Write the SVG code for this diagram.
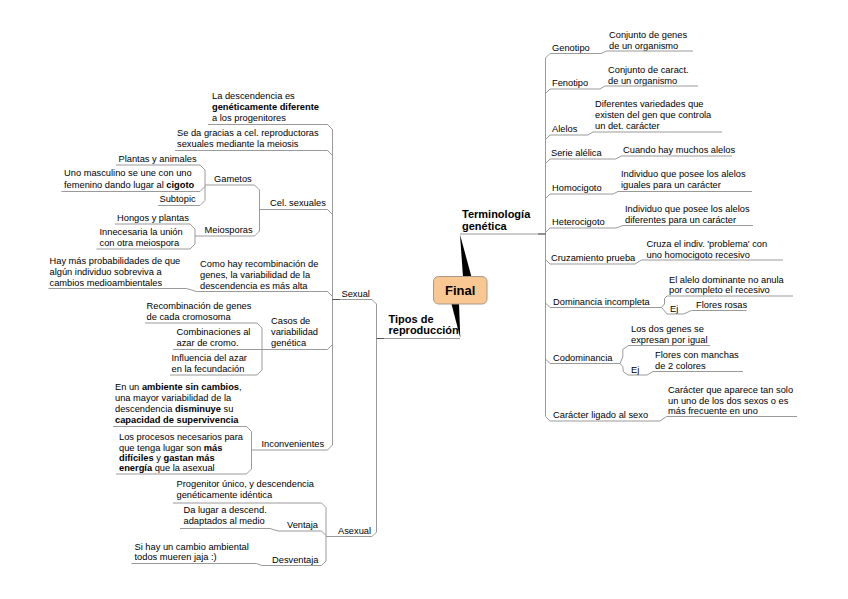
<svg xmlns="http://www.w3.org/2000/svg" width="848" height="599" viewBox="0 0 848 599">
<style>
text{font-family:"Liberation Sans",Arial,sans-serif;font-size:9.3px;fill:#000}
.h{font-size:11px;font-weight:bold}
.b{font-weight:bold}
path{fill:none;stroke:#9a9a9a;stroke-width:1}
.dk{stroke:#555}
</style>
<rect width="848" height="599" fill="#fff"/>
<g id="connectors">
<polygon points="460,234.5 471.5,277 463,277" fill="#000" stroke="none"/>
<polygon points="451.5,304 459,304 460.3,338" fill="#000" stroke="none"/>
<path d="M545.5,58V416.5"/>
<path d="M545.5,58L550,53.5M601,53.5L606.5,51"/>
<path d="M545.5,93.5L550,89M600,89L605,86"/>
<path d="M545.5,139.5L550,135M588,135L593,132"/>
<path d="M545.5,163.5L550,159M615.5,159L621.5,156"/>
<path d="M545.5,198.5L550,194M613,194L618,191.5"/>
<path d="M545.5,232.5L550,228M616,228L623,225.5"/>
<path d="M545.5,259.5L550,264M635,264L641.5,260"/>
<path d="M545.5,303L550,307.5"/>
<path d="M667,296L664.5,298.5V304L661.5,307.5L664.5,311L667,314"/>
<path d="M683.5,314L691.5,310.5"/>
<path d="M545.5,359L550,363.5"/>
<path d="M628,346L622.8,349.3V356.7L620,363.5L622.8,366.7L623.3,371.7L628,375"/>
<path d="M647,375L653,371.5"/>
<path d="M545.5,416.5L550,421M660,421L666.5,416.5"/>
<path d="M376.5,304V532"/>
<path d="M372,299.5L376.5,304M372,536.5L376.5,532"/>
<path d="M332.5,129.5V445"/>
<path d="M327.5,124.5L332.5,129.5M327.5,150.5L332.5,155.5M327.5,209.5L332.5,214.5M327.5,291.5L332.5,296.5M327.5,349.5L332.5,344.5M327.5,450L332.5,445"/>
<path d="M259.5,190V231M254.5,185L259.5,190M254.5,236L259.5,231"/>
<path d="M205,170V200.5M200,165L205,170M200,191.5L205,186.5M200,205.5L205,200.5"/>
<path d="M195,229V244M190,224L195,229M190,249L195,244"/>
<path d="M186.5,288.5L196.5,291.5"/>
<path d="M262,328V370M257,323L262,328M257,375L262,370"/>
<path d="M251.5,431.5V469M246.5,426.5L251.5,431.5M246.5,474L251.5,469"/>
<path d="M326,507.5V561M321.5,503L326,507.5M321.5,531L326,535.5M321.5,565.5L326,561"/>
<path d="M270,528.5L278,531M256.5,563.5L262,565.5"/>
</g>
<g id="n-final"><rect x="433.5" y="276.5" width="53.5" height="27.5" rx="5" fill="#F9C792" stroke="#A8998A"/><text class="h" x="460.2" y="295" text-anchor="middle" style="font-size:13px">Final</text></g>
<g id="n-terminologia"><text class="h" x="462" y="217.5">Terminología</text><text class="h" x="462" y="230">genética</text><path d="M460,234H545.5"/><path class="dk" d="M538,234H545.5"/></g>
<g id="n-tipos"><text class="h" x="388.5" y="322.5">Tipos de</text><text class="h" x="388.5" y="334">reproducción</text><path d="M376.5,338.5H460"/><path class="dk" d="M376.5,338.5H384"/></g>
<g id="n-genotipo"><text x="552" y="50.5">Genotipo</text><path d="M550,53.5H601"/></g>
<g id="n-genotipo-d"><text x="609" y="37.5">Conjunto de genes</text><text x="609" y="48.5">de un organismo</text><path d="M606.5,51H693"/></g>
<g id="n-fenotipo"><text x="552" y="86">Fenotipo</text><path d="M550,89H600"/></g>
<g id="n-fenotipo-d"><text x="608" y="72.5">Conjunto de caract.</text><text x="608" y="83.5">de un organismo</text><path d="M605,86H698"/></g>
<g id="n-alelos"><text x="552" y="132">Alelos</text><path d="M550,135H588"/></g>
<g id="n-alelos-d"><text x="595" y="107">Diferentes variedades que</text><text x="595" y="118">existen del gen que controla</text><text x="595" y="129">un det. carácter</text><path d="M593,132H722"/></g>
<g id="n-serie"><text x="551" y="156">Serie alélica</text><path d="M550,159H615.5"/></g>
<g id="n-serie-d"><text x="623" y="153">Cuando hay muchos alelos</text><path d="M621.5,156H732"/></g>
<g id="n-homo"><text x="552" y="191">Homocigoto</text><path d="M550,194H613"/></g>
<g id="n-homo-d"><text x="621" y="177">Individuo que posee los alelos</text><text x="621" y="188">iguales para un carácter</text><path d="M618,191.5H752"/></g>
<g id="n-hetero"><text x="552" y="225">Heterocigoto</text><path d="M550,228H616"/></g>
<g id="n-hetero-d"><text x="625" y="211.5">Individuo que posee los alelos</text><text x="625" y="222.5">diferentes para un carácter</text><path d="M623,225.5H753"/></g>
<g id="n-cruz"><text x="551" y="261">Cruzamiento prueba</text><path d="M550,264H635"/></g>
<g id="n-cruz-d"><text x="646.5" y="246.5">Cruza el indiv. 'problema' con</text><text x="646.5" y="257.5">uno homocigoto recesivo</text><path d="M641.5,260H783"/></g>
<g id="n-dom"><text x="553" y="304.5">Dominancia incompleta</text><path d="M550,307.5H661.5"/></g>
<g id="n-dom-d"><text x="669" y="282.5">El alelo dominante no anula</text><text x="669" y="293">por completo el recesivo</text><path d="M667,296H793"/></g>
<g id="n-dom-ej"><text x="670" y="311.5">Ej</text><path d="M667,314H683.5"/></g>
<g id="n-dom-ej-d"><text x="696" y="308">Flores rosas</text><path d="M691.5,310.5H746.5"/></g>
<g id="n-codom"><text x="553" y="360.5">Codominancia</text><path d="M550,363.5H620"/></g>
<g id="n-codom-d"><text x="631" y="331.5">Los dos genes se</text><text x="631" y="342.5">expresan por igual</text><path d="M628,345.5H710"/></g>
<g id="n-codom-ej"><text x="631" y="372.5">Ej</text><path d="M628,375H647"/></g>
<g id="n-codom-ej-d"><text x="655" y="358">Flores con manchas</text><text x="655" y="369">de 2 colores</text><path d="M653,371.5H743"/></g>
<g id="n-ligado"><text x="553" y="418">Carácter ligado al sexo</text><path d="M550,421H660"/></g>
<g id="n-ligado-d"><text x="668" y="392.5">Carácter que aparece tan solo</text><text x="668" y="403.5">un uno de los dos sexos o es</text><text x="668" y="414">más frecuente en uno</text><path d="M666.5,416.5H797"/></g>
<g id="n-sexual"><text x="341.5" y="296.5">Sexual</text><path d="M332.5,299.5H372"/><path class="dk" d="M332.5,299.5H340"/></g>
<g id="n-asexual"><text x="338" y="533.5">Asexual</text><path d="M326,536.5H372"/></g>
<g id="n-desc"><text x="212" y="98.5">La descendencia es</text><text x="212" y="109.5" class="b">genéticamente diferente</text><text x="212" y="120.5">a los progenitores</text><path d="M208,124.5H327.5"/></g>
<g id="n-seda"><text x="177" y="136">Se da gracias a cel. reproductoras</text><text x="177" y="147">sexuales mediante la meiosis</text><path d="M175,150.5H327.5"/></g>
<g id="n-cel"><text x="270" y="206">Cel. sexuales</text><path d="M259.5,209.5H327.5"/></g>
<g id="n-gametos"><text x="214" y="182">Gametos</text><path d="M205,185H254.5"/></g>
<g id="n-plantas"><text x="118.5" y="162">Plantas y animales</text><path d="M116,165H200"/></g>
<g id="n-uno"><text x="64" y="176">Uno masculino se une con uno</text><text x="64" y="187.5">femenino dando lugar al <tspan class="b">cigoto</tspan></text><path d="M61.5,191.5H200"/></g>
<g id="n-subtopic"><text x="159.5" y="202">Subtopic</text><path d="M158,205.5H200"/></g>
<g id="n-meio"><text x="204.5" y="233">Meiosporas</text><path d="M195,236H254.5"/></g>
<g id="n-hongos"><text x="117" y="221">Hongos y plantas</text><path d="M115,224H190"/></g>
<g id="n-innec"><text x="99.5" y="234.5">Innecesaria la unión</text><text x="99.5" y="245.5">con otra meiospora</text><path d="M96.5,249H190"/></g>
<g id="n-comohay"><text x="200" y="266.5">Como hay recombinación de</text><text x="200" y="277.5">genes, la variabilidad de la</text><text x="200" y="288.5">descendencia es más alta</text><path d="M196.5,291.5H327.5"/></g>
<g id="n-haymas"><text x="49.5" y="263.5">Hay más probabilidades de que</text><text x="49.5" y="274.5">algún individuo sobreviva a</text><text x="49.5" y="285.5">cambios medioambientales</text><path d="M48.5,288.5H186.5"/></g>
<g id="n-casos"><text x="271" y="324">Casos de</text><text x="271" y="335">variabilidad</text><text x="271" y="346">genética</text><path d="M262,349.5H327.5"/></g>
<g id="n-recomb"><text x="146.5" y="309">Recombinación de genes</text><text x="146.5" y="320">de cada cromosoma</text><path d="M145,323H257"/></g>
<g id="n-combin"><text x="176.5" y="335">Combinaciones al</text><text x="176.5" y="346">azar de cromo.</text><path d="M173,349.5H262"/></g>
<g id="n-influ"><text x="171.5" y="361">Influencia del azar</text><text x="171.5" y="372">en la fecundación</text><path d="M170,375H257"/></g>
<g id="n-inconv"><text x="261.5" y="447">Inconvenientes</text><path d="M251.5,450H327.5"/></g>
<g id="n-enun"><text x="115" y="390">En un <tspan class="b">ambiente sin cambios</tspan>,</text><text x="115" y="401">una mayor variabilidad de la</text><text x="115" y="412">descendencia <tspan class="b">disminuye</tspan> su</text><text x="115" y="423" class="b">capacidad de supervivencia</text><path d="M113,426.5H246.5"/></g>
<g id="n-procesos"><text x="119" y="440">Los procesos necesarios para</text><text x="119" y="450.5">que tenga lugar son <tspan class="b">más</tspan></text><text x="119" y="460.5"><tspan class="b">difíciles</tspan> y <tspan class="b">gastan más</tspan></text><text x="119" y="471"><tspan class="b">energía</tspan> que la asexual</text><path d="M116,474H246.5"/></g>
<g id="n-progenitor"><text x="176.5" y="487">Progenitor único, y descendencia</text><text x="176.5" y="498">genéticamente idéntica</text><path d="M173,503H321.5"/></g>
<g id="n-ventaja"><text x="287" y="527.5">Ventaja</text><path d="M278,531H321.5"/></g>
<g id="n-dalugar"><text x="183.5" y="512.5">Da lugar a descend.</text><text x="183.5" y="523.5">adaptados al medio</text><path d="M180,528.5H270"/></g>
<g id="n-desventaja"><text x="272" y="562.5">Desventaja</text><path d="M262,565.5H321.5"/></g>
<g id="n-sihay"><text x="134.5" y="549.5">Si hay un cambio ambiental</text><text x="134.5" y="560">todos mueren jaja :)</text><path d="M131.5,563.5H256.5"/></g>
</svg>
